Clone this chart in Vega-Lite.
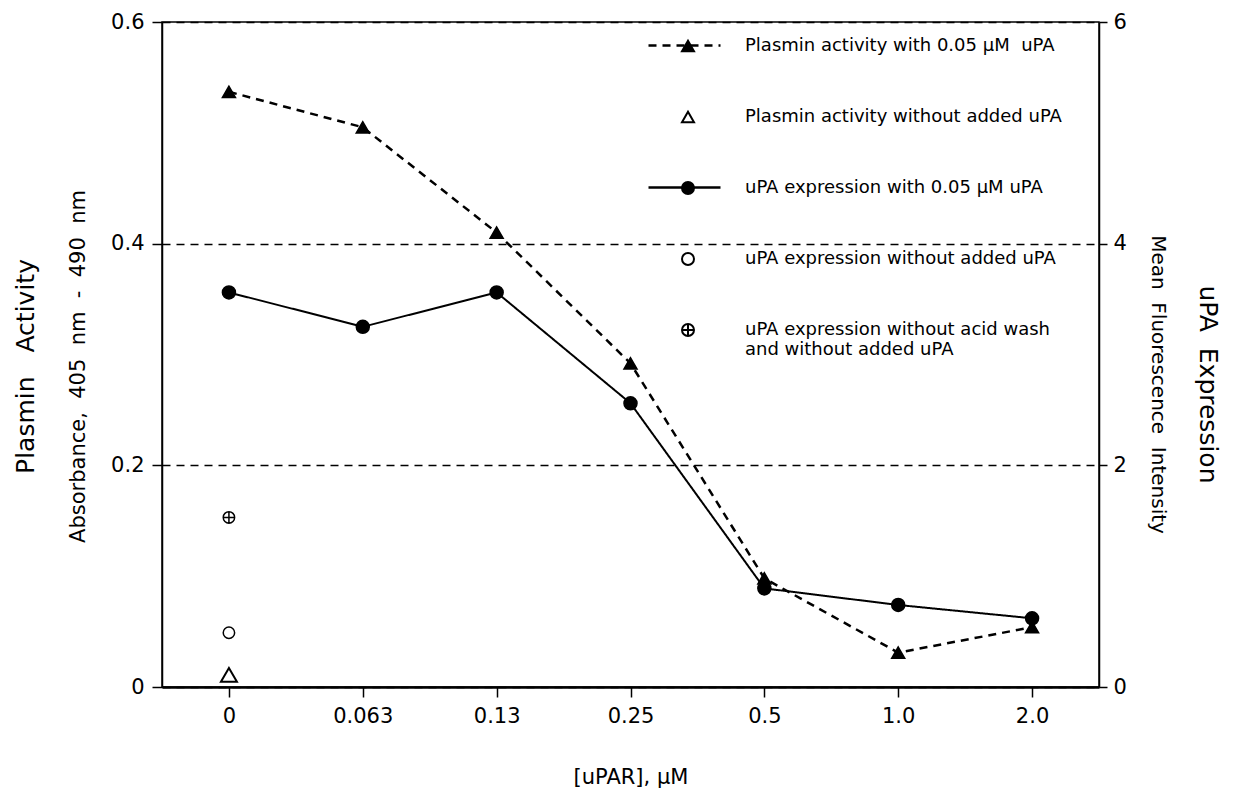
{
  "$schema": "https://vega.github.io/schema/vega-lite/v6.json",
  "width": 937,
  "height": 665,
  "autosize": {"type": "none"},
  "padding": {"left": 162, "top": 22, "right": 134, "bottom": 103},
  "background": "white",
  "config": {
    "view": {"stroke": "black", "strokeWidth": 1.5},
    "font": "DejaVu Sans",
    "axis": {
      "labelFont": "DejaVu Sans",
      "labelColor": "black",
      "titleFont": "DejaVu Sans",
      "titleColor": "black",
      "titleFontWeight": "normal",
      "domainColor": "black",
      "tickColor": "black",
      "labelFontSize": 21,
      "titleFontSize": 21
    },
    "legend": {
      "orient": "none",
      "padding": 0,
      "symbolOpacity": 1,
      "labelFont": "DejaVu Sans",
      "labelFontSize": 18,
      "labelColor": "black",
      "labelLimit": 600
    }
  },
  "data": {
    "values": [
      {"uPAR": "0", "series": "Plasmin activity with 0.05 μM\u00a0 uPA", "value": 0.537},
      {"uPAR": "0.063", "series": "Plasmin activity with 0.05 μM\u00a0 uPA", "value": 0.505},
      {"uPAR": "0.13", "series": "Plasmin activity with 0.05 μM\u00a0 uPA", "value": 0.41},
      {"uPAR": "0.25", "series": "Plasmin activity with 0.05 μM\u00a0 uPA", "value": 0.292},
      {"uPAR": "0.5", "series": "Plasmin activity with 0.05 μM\u00a0 uPA", "value": 0.098},
      {"uPAR": "1.0", "series": "Plasmin activity with 0.05 μM\u00a0 uPA", "value": 0.031},
      {"uPAR": "2.0", "series": "Plasmin activity with 0.05 μM\u00a0 uPA", "value": 0.054},
      {"uPAR": "0", "series": "Plasmin activity without added uPA", "value": 0.011},
      {"uPAR": "0", "series": "uPA expression with 0.05 μM uPA", "value": 3.56},
      {"uPAR": "0.063", "series": "uPA expression with 0.05 μM uPA", "value": 3.25},
      {"uPAR": "0.13", "series": "uPA expression with 0.05 μM uPA", "value": 3.56},
      {"uPAR": "0.25", "series": "uPA expression with 0.05 μM uPA", "value": 2.56},
      {"uPAR": "0.5", "series": "uPA expression with 0.05 μM uPA", "value": 0.89},
      {"uPAR": "1.0", "series": "uPA expression with 0.05 μM uPA", "value": 0.74},
      {"uPAR": "2.0", "series": "uPA expression with 0.05 μM uPA", "value": 0.62},
      {"uPAR": "0", "series": "uPA expression without added uPA", "value": 0.49},
      {"uPAR": "0", "series": "uPA expression without acid wash and without added uPA", "value": 1.53}
    ]
  },
  "encoding": {
    "x": {
      "field": "uPAR",
      "type": "ordinal",
      "scale": {"type": "point", "padding": 0.5, "domain": ["0", "0.063", "0.13", "0.25", "0.5", "1.0", "2.0"]},
      "axis": {
        "orient": "bottom",
        "title": "[uPAR], μM",
        "labelAngle": 0,
        "domainWidth": 2.5,
        "tickSize": 10,
        "tickWidth": 1.5,
        "labelPadding": 8,
        "grid": false,
        "titleBaseline": "middle",
        "titleY": 90
      }
    }
  },
  "layer": [
    {
      "transform": [{"filter": "datum.series == 'Plasmin activity with 0.05 μM\u00a0 uPA'"}],
      "mark": {"type": "line", "color": "black", "strokeWidth": 2.5},
      "encoding": {
        "y": {
          "field": "value",
          "type": "quantitative",
          "scale": {"domain": [0, 0.6], "nice": false, "zero": true},
          "axis": {
            "orient": "left",
            "values": [0, 0.2, 0.4, 0.6],
            "labelExpr": "datum.value == 0 ? '0' : format(datum.value, '.1f')",
            "grid": true,
            "gridDash": [8, 6],
            "gridColor": "black",
            "gridOpacity": 1,
            "gridWidth": 1.5,
            "tickSize": 10,
            "tickWidth": 1.5,
            "domainWidth": 1.5,
            "labelPadding": 8,
            "title": "Absorbance,\u00a0 405\u00a0 nm\u00a0 -\u00a0 490\u00a0 nm",
            "titleFontSize": 21,
            "titleBaseline": "middle",
            "titleX": -84,
            "titleY": 344
          }
        },
        "strokeDash": {
          "field": "series",
          "type": "nominal",
          "scale": {
            "domain": [
              "Plasmin activity with 0.05 μM\u00a0 uPA",
              "Plasmin activity without added uPA",
              "uPA expression with 0.05 μM uPA",
              "uPA expression without added uPA",
              "uPA expression without acid wash and without added uPA",
              " "
            ],
            "range": [[8, 6], [0, 2000], [1, 0], [0, 2000], [0, 2000], [0, 2000]]
          },
          "legend": {
            "title": null,
            "legendX": 485,
            "legendY": -14,
            "rowPadding": 24,
            "symbolType": "stroke",
            "symbolSize": 5184,
            "symbolStrokeWidth": 2.5,
            "symbolStrokeColor": "black",
            "labelColor": "transparent",
            "labelExpr": "' '",
            "labelOffset": 10
          }
        }
      }
    },
    {
      "transform": [{"filter": "datum.series == 'uPA expression with 0.05 μM uPA'"}],
      "mark": {"type": "line", "color": "black", "strokeWidth": 2},
      "encoding": {
        "y": {
          "field": "value",
          "type": "quantitative",
          "scale": {"domain": [0, 6], "nice": false, "zero": true},
          "axis": {
            "orient": "right",
            "values": [0, 2, 4, 6],
            "grid": false,
            "tickSize": 8,
            "tickWidth": 1.5,
            "domainWidth": 1.5,
            "labelPadding": 6,
            "title": "Mean\u00a0 Fluorescence\u00a0 Intensity",
            "titleFontSize": 20,
            "titleAngle": 90,
            "titleBaseline": "middle",
            "titleX": 58,
            "titleY": 362
          }
        },
        "strokeDash": {"field": "series", "type": "nominal"}
      }
    },
    {
      "transform": [{"filter": "datum.series == 'Plasmin activity with 0.05 μM\u00a0 uPA'"}],
      "mark": {"type": "point", "filled": true, "strokeWidth": 1.5, "size": 170, "opacity": 1},
      "encoding": {
        "y": {
          "field": "value",
          "type": "quantitative",
          "scale": {"domain": [0, 0.6], "nice": false, "zero": true},
          "axis": {
            "orient": "left",
            "labels": false,
            "ticks": false,
            "domain": false,
            "grid": false,
            "title": "Plasmin\u00a0\u00a0 Activity",
            "titleFontSize": 25,
            "titleBaseline": "middle",
            "titleX": -137,
            "titleY": 344
          }
        },
        "shape": {
          "field": "series",
          "type": "nominal",
          "scale": {
            "domain": [
              "Plasmin activity with 0.05 μM\u00a0 uPA",
              "Plasmin activity without added uPA",
              "uPA expression with 0.05 μM uPA",
              "uPA expression without added uPA",
              "uPA expression without acid wash and without added uPA"
            ],
            "range": ["triangle-up", "triangle-up", "circle", "circle", "M-1,0A1,1 0 1,1 1,0A1,1 0 1,1 -1,0ZM-1,0H1M0,-1V1"]
          },
          "legend": {
            "title": null,
            "legendX": 517,
            "legendY": 15,
            "rowPadding": 51,
            "symbolSize": 144,
            "symbolStrokeWidth": 2,
            "labelOffset": 48,
            "labelExpr": "indexof(datum.label, 'acid') >= 0 ? ['uPA expression without acid wash', 'and without added uPA'] : datum.label"
          }
        },
        "fill": {
          "field": "series",
          "type": "nominal",
          "scale": {
            "domain": [
              "Plasmin activity with 0.05 μM\u00a0 uPA",
              "Plasmin activity without added uPA",
              "uPA expression with 0.05 μM uPA",
              "uPA expression without added uPA",
              "uPA expression without acid wash and without added uPA"
            ],
            "range": ["black", "transparent", "black", "transparent", "transparent"]
          },
          "legend": {
            "title": null,
            "legendX": 517,
            "legendY": 15,
            "rowPadding": 51,
            "symbolSize": 144,
            "symbolStrokeWidth": 2,
            "labelOffset": 48,
            "labelExpr": "indexof(datum.label, 'acid') >= 0 ? ['uPA expression without acid wash', 'and without added uPA'] : datum.label"
          }
        },
        "stroke": {
          "field": "series",
          "type": "nominal",
          "scale": {
            "domain": [
              "Plasmin activity with 0.05 μM\u00a0 uPA",
              "Plasmin activity without added uPA",
              "uPA expression with 0.05 μM uPA",
              "uPA expression without added uPA",
              "uPA expression without acid wash and without added uPA"
            ],
            "range": ["black", "black", "black", "black", "black"]
          },
          "legend": {
            "title": null,
            "legendX": 517,
            "legendY": 15,
            "rowPadding": 51,
            "symbolSize": 144,
            "symbolStrokeWidth": 2,
            "labelOffset": 48,
            "labelExpr": "indexof(datum.label, 'acid') >= 0 ? ['uPA expression without acid wash', 'and without added uPA'] : datum.label"
          }
        }
      }
    },
    {
      "transform": [{"filter": "datum.series == 'Plasmin activity without added uPA'"}],
      "mark": {"type": "point", "filled": true, "strokeWidth": 2, "size": 256, "opacity": 1},
      "encoding": {
        "y": {
          "field": "value",
          "type": "quantitative",
          "scale": {"domain": [0, 0.6], "nice": false, "zero": true},
          "axis": null
        },
        "shape": {"field": "series", "type": "nominal"},
        "fill": {"field": "series", "type": "nominal"},
        "stroke": {"field": "series", "type": "nominal"}
      }
    },
    {
      "transform": [{"filter": "datum.series == 'uPA expression with 0.05 μM uPA'"}],
      "mark": {"type": "point", "filled": true, "strokeWidth": 1.5, "size": 170, "opacity": 1},
      "encoding": {
        "y": {
          "field": "value",
          "type": "quantitative",
          "scale": {"domain": [0, 6], "nice": false, "zero": true},
          "axis": {
            "orient": "right",
            "labels": false,
            "ticks": false,
            "domain": false,
            "grid": false,
            "title": "uPA\u00a0 Expression",
            "titleFontSize": 25,
            "titleAngle": 90,
            "titleBaseline": "middle",
            "titleX": 108,
            "titleY": 362
          }
        },
        "shape": {"field": "series", "type": "nominal"},
        "fill": {"field": "series", "type": "nominal"},
        "stroke": {"field": "series", "type": "nominal"}
      }
    },
    {
      "transform": [{"filter": "datum.series == 'uPA expression without added uPA' || datum.series == 'uPA expression without acid wash and without added uPA'"}],
      "mark": {"type": "point", "filled": true, "strokeWidth": 1.5, "size": 130, "opacity": 1},
      "encoding": {
        "y": {
          "field": "value",
          "type": "quantitative",
          "scale": {"domain": [0, 6], "nice": false, "zero": true},
          "axis": null
        },
        "shape": {"field": "series", "type": "nominal"},
        "fill": {"field": "series", "type": "nominal"},
        "stroke": {"field": "series", "type": "nominal"}
      }
    }
  ],
  "resolve": {"scale": {"y": "independent"}, "axis": {"y": "independent"}}
}
